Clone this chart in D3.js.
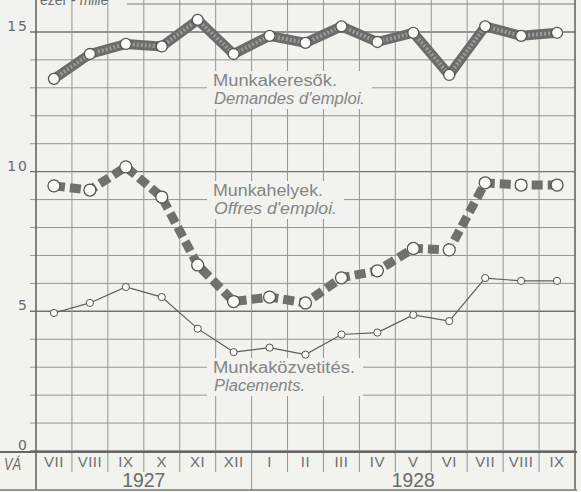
<!DOCTYPE html>
<html><head><meta charset="utf-8">
<script src="https://cdn.jsdelivr.net/npm/d3@7/dist/d3.min.js"></script>
<style>
html,body{margin:0;padding:0;background:#f2f2ef;}
svg{display:block;}
text{font-family:"Liberation Sans",Arial,sans-serif;}
</style></head>
<body>
<svg id="c" width="581" height="492"></svg>
<script>
// ---- data ----
const months = ["VII","VIII","IX","X","XI","XII","I","II","III","IV","V","VI","VII","VIII","IX"];
const years = [{label:"1927", from:0, to:5},{label:"1928", from:6, to:14}];
const jobSeekers = [13.32,14.21,14.57,14.48,15.43,14.21,14.86,14.61,15.2,14.64,14.97,13.46,15.2,14.86,14.97];
const vacancies  = [9.49,9.34,10.17,9.09,6.66,5.35,5.51,5.3,6.2,6.45,7.25,7.2,9.6,9.52,9.52];
const placements = [4.94,5.3,5.87,5.51,4.38,3.54,3.7,3.45,4.17,4.24,4.87,4.65,6.19,6.09,6.09];
const yLabels = [0,5,10,15];
const unitLabel = ["ezer - ","mille"];
const seriesLabels = [
  ["Munkakeresők.","Demandes d'emploi."],
  ["Munkahelyek.","Offres d'emploi."],
  ["Munkaközvetités.","Placements."]
];
const monthWord = "VÁ";

// ---- layout ----
const L = 36, R = 575, T = 4, B = 451;
const svg = d3.select("#c");
const idx = d3.range(months.length);
const x = d3.scaleBand().domain(idx).range([L, R]);
const y = d3.scaleLinear().domain([0, 16]).range([B, T]);
const cx = i => x(i) + x.bandwidth()/2;
const gridCol = "#959595";

svg.append("rect").attr("width",581).attr("height",492).attr("fill","#f2f2ef");

// horizontal grid
const hg = svg.append("g");
hg.selectAll("line").data(d3.range(0, 16)).join("line")
  .attr("x1", L-6).attr("x2", R)
  .attr("y1", d => y(d)).attr("y2", d => y(d))
  .attr("stroke", d => d % 5 === 0 ? "#737373" : gridCol)
  .attr("stroke-width", d => d % 5 === 0 ? 1.4 : 1);
hg.append("line").attr("x1",127).attr("x2",R).attr("y1",y(16)).attr("y2",y(16))
  .attr("stroke","#7a7a7a").attr("stroke-width",1.2);

// vertical grid (band boundaries)
const bounds = d3.range(months.length + 1).map(i => i < months.length ? x(i) : R);
svg.append("g").selectAll("line").data(bounds).join("line")
  .attr("x1", d => d).attr("x2", d => d)
  .attr("y1", 0)
  .attr("y2", (d,i) => (i === 0 || i === 6 || i === months.length) ? 490 : 472)
  .attr("stroke", (d,i) => (i === 0 || i === months.length) ? "#666" : gridCol)
  .attr("stroke-width", (d,i) => (i === 0 || i === months.length) ? 1.6 : 1);

// x axis baseline and bottom line
svg.append("line").attr("x1",0).attr("x2",R+2).attr("y1",y(0)+1).attr("y2",y(0)+1)
  .attr("stroke","#666").attr("stroke-width",1.8);
svg.append("line").attr("x1",0).attr("x2",R+2).attr("y1",490).attr("y2",490)
  .attr("stroke","#777").attr("stroke-width",1.5);

// y axis labels
const yAxis = d3.axisLeft(y).tickValues(yLabels).tickSize(0).tickPadding(7);
const ya = svg.append("g").attr("transform",`translate(${L},0)`).call(yAxis);
ya.select(".domain").remove();
ya.selectAll("text").attr("dy","-0.1em").attr("font-size",14)
  .attr("fill","#6a6a6a").attr("letter-spacing",2)
  .style("font-family","'DejaVu Sans',sans-serif");

// x axis month labels
const xAxis = d3.axisBottom(x).tickFormat(i => months[i]).tickSize(0).tickPadding(5);
const xa = svg.append("g").attr("transform",`translate(0,${B})`).call(xAxis);
xa.select(".domain").remove();
xa.selectAll("text").attr("font-size",15).attr("fill","#6f6f6f").attr("letter-spacing",0.5);

// years
svg.append("g").selectAll("text").data(years).join("text")
  .attr("x", d => (x(d.from) + x(d.to) + x.bandwidth())/2)
  .attr("y", 487).attr("text-anchor","middle")
  .attr("font-size",21).attr("fill","#6a6a6a")
  .attr("textLength",43).attr("lengthAdjust","spacingAndGlyphs")
  .text(d => d.label);

// month word
svg.append("text").attr("x",4).attr("y",470).attr("font-size",16)
  .attr("font-style","italic").attr("fill","#6a6a6a")
  .attr("textLength",17).attr("lengthAdjust","spacingAndGlyphs").text(monthWord);

// unit label (partly cut by the top edge, as in the reference)
const ul = svg.append("text").attr("x",40).attr("y",5).attr("font-size",14).attr("fill","#6a6a6a");
ul.append("tspan").text(unitLabel[0]);
ul.append("tspan").attr("font-style","italic").text(unitLabel[1]);

// legend labels with background masks
const legend = [
  {lines: seriesLabels[0], x:213, y:86, w:[124,151]},
  {lines: seriesLabels[1], x:213, y:196, w:[110,123]},
  {lines: seriesLabels[2], x:213, y:373, w:[142,91]}
];
const lineGap = 18;
legend.forEach(l => {
  const wmax = d3.max(l.w);
  svg.append("rect").attr("x", l.x-6).attr("y", l.y-15).attr("width", wmax+14).attr("height", 38)
    .attr("fill","#f2f2ef");
});

const line = d3.line().x((d,i) => cx(i)).y(d => y(d));

// job seekers: thick textured band
svg.append("path").datum(jobSeekers).attr("d", line).attr("fill","none")
  .attr("stroke","#6c6c6c").attr("stroke-width",10).attr("stroke-linejoin","round");
svg.append("path").datum(jobSeekers).attr("d", line).attr("fill","none")
  .attr("stroke","#9a9a9a").attr("stroke-width",4).attr("stroke-dasharray","2,2");
svg.append("g").selectAll("circle").data(jobSeekers).join("circle")
  .attr("cx",(d,i)=>cx(i)).attr("cy",d=>y(d)).attr("r",5.5)
  .attr("fill","#fbfbf9").attr("stroke","#555").attr("stroke-width",1.3);

// vacancies: thick dashed
svg.append("path").datum(vacancies).attr("d", line).attr("fill","none")
  .attr("stroke","#707070").attr("stroke-width",9).attr("stroke-dasharray","11,5");
svg.append("g").selectAll("circle").data(vacancies).join("circle")
  .attr("cx",(d,i)=>cx(i)).attr("cy",d=>y(d)).attr("r",6)
  .attr("fill","#fbfbf9").attr("stroke","#555").attr("stroke-width",1.3);

// placements: thin
svg.append("path").datum(placements).attr("d", line).attr("fill","none")
  .attr("stroke","#5e5e5e").attr("stroke-width",1.2);
svg.append("g").selectAll("circle").data(placements).join("circle")
  .attr("cx",(d,i)=>cx(i)).attr("cy",d=>y(d)).attr("r",3.6)
  .attr("fill","#fbfbf9").attr("stroke","#555").attr("stroke-width",1);

// legend texts
legend.forEach(l => {
  l.lines.forEach((t, k) => {
    svg.append("text").attr("x", l.x + k).attr("y", l.y + k*lineGap)
      .attr("font-size",16).attr("fill","#858585")
      .attr("font-style", k === 1 ? "italic" : "normal")
      .attr("textLength", l.w[k]).attr("lengthAdjust","spacingAndGlyphs")
      .text(t);
  });
});
</script>
</body></html>
